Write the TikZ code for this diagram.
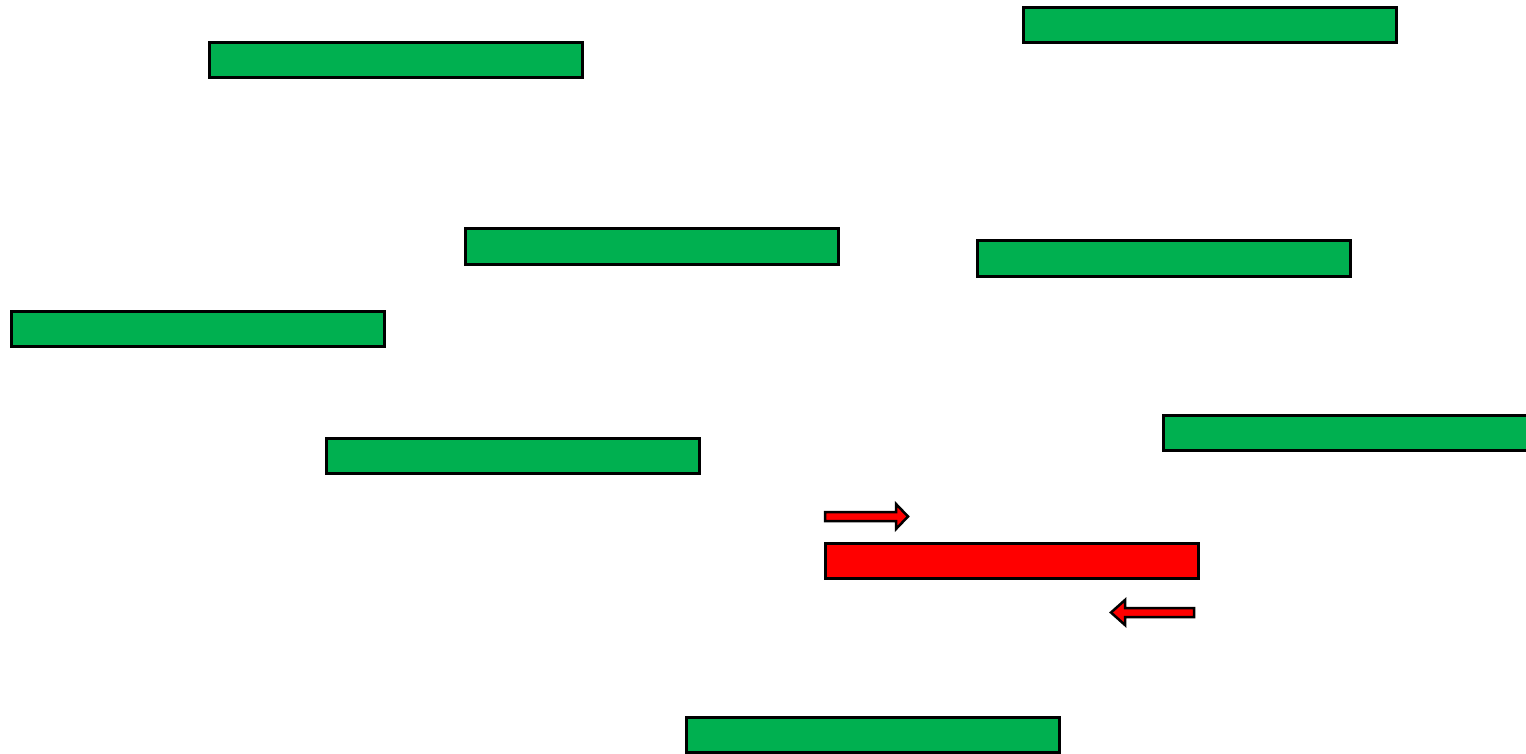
\documentclass[tikz,border=0pt]{standalone}
\usepackage{xcolor}
\usepackage{tikz}
\usetikzlibrary{positioning, calc}

\definecolor{barGreen}{HTML}{00B050}
\definecolor{barRed}{HTML}{FF0000}

\begin{document}
\begin{tikzpicture}[
  x=1pt, y=-1pt,
  bar/.style={
    rectangle, draw=black, line width=3pt, fill=#1,
    minimum width=373pt, minimum height=35pt,
    anchor=north west, inner sep=0pt, outer sep=0pt,
  },
  pointer/.style={draw=black, line width=2.5pt, fill=barRed, line join=miter},
]
% Canvas: same size as the reference, everything outside is cut.
\useasboundingbox (0,0) rectangle (1526,754);
\clip (0,0) rectangle (1526,754);

% Green reads, all the same length.
\node[bar=barGreen] (readA) at (209,43)  {};
\node[bar=barGreen] (readB) at (1023,8)  {};
\node[bar=barGreen] (readC) at (465,229) {};
\node[bar=barGreen] (readD) at (977,241) {};
\node[bar=barGreen] (readE) at (11,311)  {};
\node[bar=barGreen] (readF) at (326,438) {};
\node[bar=barGreen] (readG) at (1163,415) {};
\node[bar=barGreen] (readH) at (686,717) {};

% Red target with its two primers.
\node[bar=barRed] (target) at (825,543) {};

\draw[pointer] (target.north west) ++(0,-31) -- ++(71,0) -- ++(0,-8)
  -- ++(12,12.5) -- ++(-12,12.5) -- ++(0,-8) -- ++(-71,0) -- cycle;
\draw[pointer] (target.south east) ++(-4,30) -- ++(-69,0) -- ++(0,-8)
  -- ++(-14,12.5) -- ++(14,12.5) -- ++(0,-8) -- ++(69,0) -- cycle;

\end{tikzpicture}
\end{document}
